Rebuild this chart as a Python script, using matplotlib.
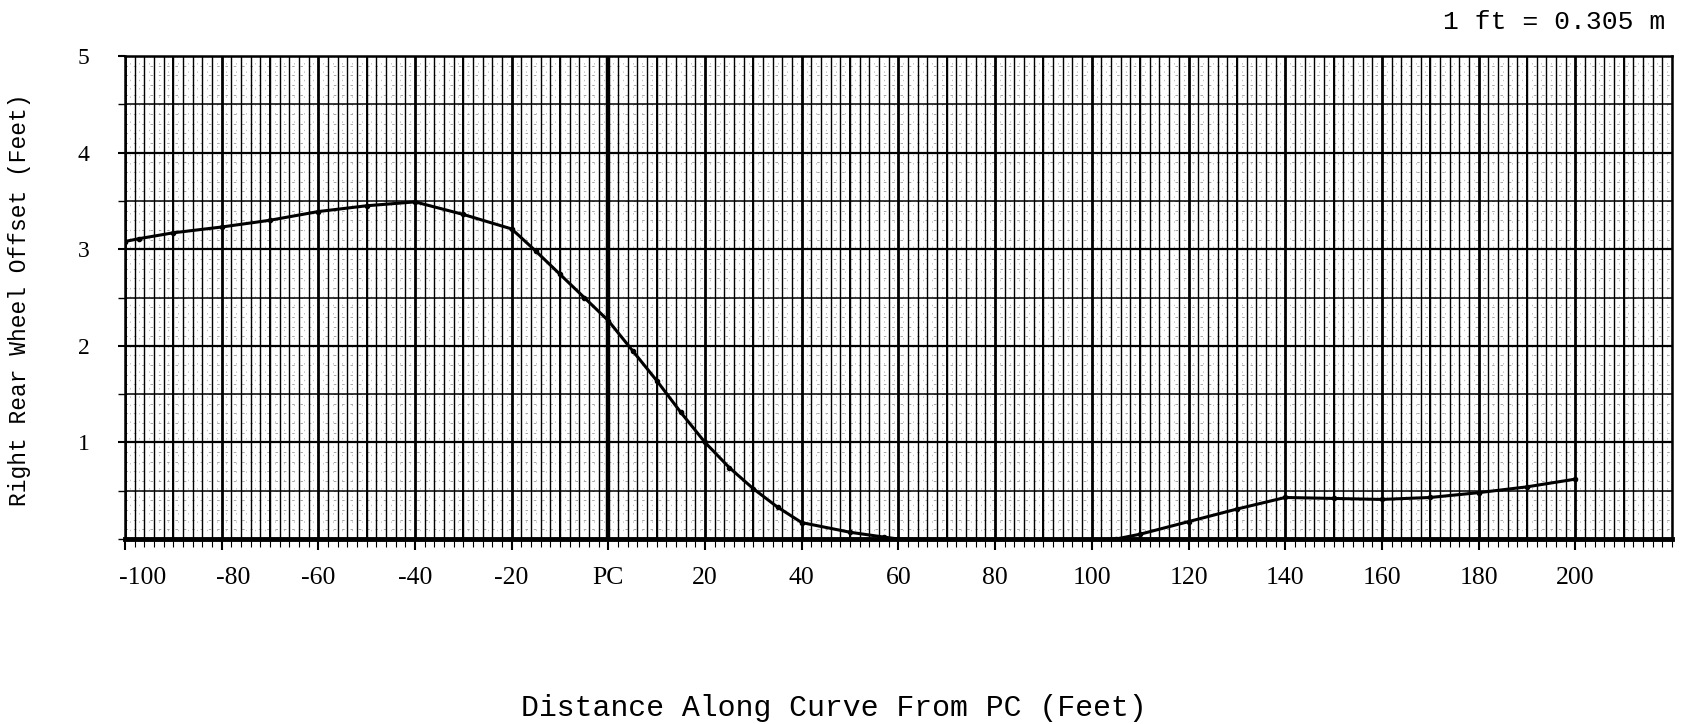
import numpy as np
import matplotlib
matplotlib.use("Agg")
import matplotlib.pyplot as plt
from matplotlib.ticker import FixedLocator, MultipleLocator
from matplotlib.transforms import ScaledTranslation

# offset curve
dist_ft = [-100, -97, -90, -80, -70, -60, -50, -40, -30, -20, -15, -10, -5, 0,
           5, 10, 15, 20, 25, 30, 35, 40, 50, 57, 60, 80, 100, 105, 110, 120,
           130, 140, 150, 160, 170, 180, 190, 200]
offset_ft = [3.08, 3.11, 3.17, 3.23, 3.30, 3.39, 3.45, 3.49, 3.36, 3.21, 2.98, 2.74,
             2.50, 2.26, 1.95, 1.64, 1.31, 1.00, 0.74, 0.52, 0.33, 0.17, 0.07, 0.02,
             0.0, -0.02, -0.01, 0.0, 0.05, 0.18, 0.31, 0.43, 0.42, 0.41, 0.43, 0.48,
             0.54, 0.62]

x_ticks = [-100, -80, -60, -40, -20, 0, 20, 40, 60, 80, 100, 120, 140, 160, 180, 200]
x_labels = ["-100", "-80", "-60", "-40", "-20", "PC", "20", "40", "60", "80",
            "100", "120", "140", "160", "180", "200"]
y_ticks = [1, 2, 3, 4, 5]
y_labels = ["1", "2", "3", "4", "5"]

fig = plt.figure(figsize=(16.95, 7.24), dpi=100)
ax = fig.add_axes([0.0737, 0.2555, 0.9127, 0.6671])
ax.set_xlim(-100, 220)
ax.set_ylim(0, 5)

# graph paper
ax.xaxis.set_major_locator(FixedLocator(x_ticks))
ax.xaxis.set_minor_locator(MultipleLocator(2))
ax.yaxis.set_major_locator(FixedLocator(y_ticks))
ax.yaxis.set_minor_locator(MultipleLocator(0.5))
ax.grid(which="major", axis="x", color="black", lw=2.0)
ax.grid(which="minor", axis="x", color="black", lw=1.0)
ax.grid(which="major", axis="y", color="black", lw=1.6)
ax.grid(which="minor", axis="y", color="black", lw=1.1)
ax.vlines(np.arange(-90, 220, 20), 0, 5, color="black", lw=1.4, zorder=1)
ax.hlines(np.arange(0.1, 5, 0.1), -100, 220, color="0.6", lw=0.6,
          linestyles=(0, (3, 7)), zorder=0)
ax.vlines(np.arange(-99, 220, 2), 0, 5, color="0.65", lw=0.5,
          linestyles=(0, (2, 10)), zorder=0)
ax.axvline(0, color="black", lw=3.2, zorder=2)
ax.set_axisbelow(True)

ax.plot(dist_ft, offset_ft, color="black", lw=2.2, marker="o", ms=3.0, zorder=5)

for side in ["top", "right", "left"]:
    ax.spines[side].set_linewidth(1.8)
ax.spines["bottom"].set_linewidth(3.5)

ax.set_xticks(x_ticks)
ax.set_xticklabels(x_labels, fontfamily="Liberation Serif", fontsize=18.5)
ax.set_yticks(y_ticks)
ax.set_yticklabels(y_labels, fontfamily="Liberation Serif", fontsize=17)
ax.tick_params(axis="x", which="major", length=8, width=1.5, pad=12)
ax.tick_params(axis="x", which="minor", length=6, width=0.8)
ax.tick_params(axis="y", which="major", length=5, width=1.5, pad=20.5)
ax.tick_params(axis="y", which="minor", length=5, width=1.0)

# typed labels sit a little off their ticks
shifts = {"-100": 0.18, "-80": 0.12}
for lbl in ax.get_xticklabels():
    if lbl.get_text() in shifts:
        lbl.set_transform(lbl.get_transform() +
                          ScaledTranslation(shifts[lbl.get_text()], 0, fig.dpi_scale_trans))

fig.text(834 / 1695, 1 - 708 / 724, "Distance Along Curve From PC (Feet)",
         ha="center", va="center", fontfamily="Liberation Mono", fontsize=21.5)
fig.text(20 / 1695, 1 - 300 / 724, "Right Rear Wheel Offset (Feet)",
         ha="center", va="center", rotation=90, fontfamily="Liberation Mono", fontsize=16.5)
fig.text(1665 / 1695, 1 - 22 / 724, "1 ft = 0.305 m", ha="right", va="center",
         fontfamily="Liberation Mono", fontsize=19)

fig.savefig("out.png", dpi=100)
